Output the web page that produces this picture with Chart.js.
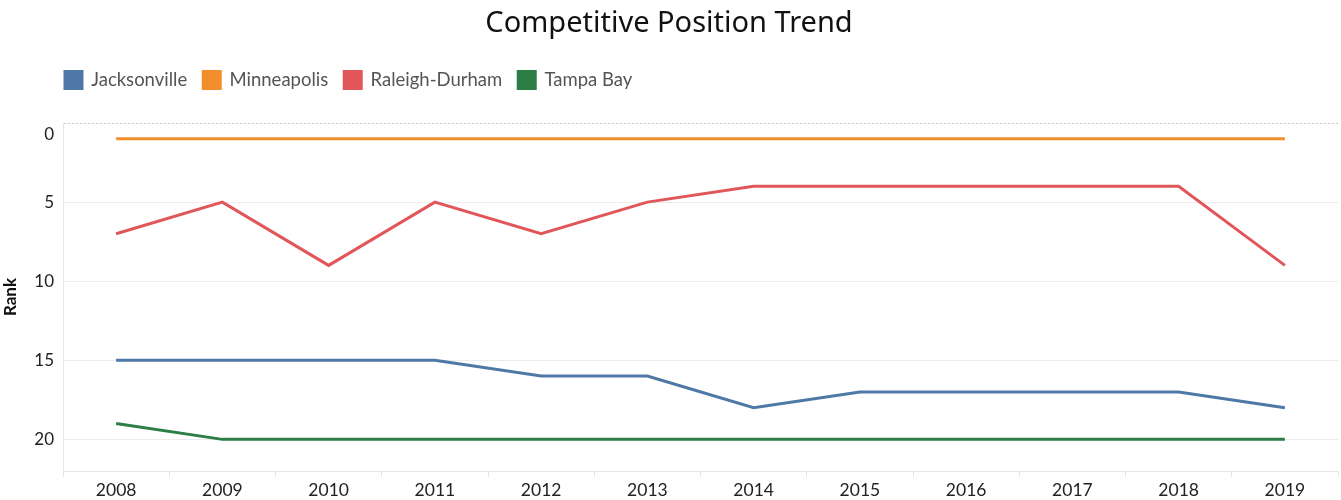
<!DOCTYPE html>
<html><head><meta charset="utf-8">
<script src="https://cdn.jsdelivr.net/npm/chart.js@4/dist/chart.umd.min.js"></script>
<style>html,body{margin:0;padding:0;background:#fff}#wrap{width:1341px;height:500px;position:relative}</style>
</head><body><div id="wrap"><canvas id="c" width="1341" height="500"></canvas></div>
<script>
const years = ['2008','2009','2010','2011','2012','2013','2014','2015','2016','2017','2018','2019'];
const jacksonville = [15,15,15,15,16,16,18,17,17,17,17,18];
const minneapolis = [1,1,1,1,1,1,1,1,1,1,1,1];
const raleighDurham = [7,5,9,5,7,5,4,4,4,4,4,9];
const tampaBay = [19,20,20,20,20,20,20,20,20,20,20,20];
const seriesNames = ['Jacksonville','Minneapolis','Raleigh-Durham','Tampa Bay'];
const seriesColors = ['#4e79a7','#f28e2b','#e15759','#2d7d46'];
const seriesData = [jacksonville, minneapolis, raleighDurham, tampaBay];

const FONT = 'Lato, "Noto Sans", sans-serif';

const legendTweak = {
  id: 'legendTweak',
  beforeInit(chart) {
    const lg = chart.legend;
    const origFit = lg.fit;
    lg.fit = function() { origFit.call(this); this.height += 23.75; };
  },
  afterLayout(chart) {
    chart.legend.left = 49;
  }
};

new Chart(document.getElementById('c'), {
  type: 'line',
  data: {
    labels: years,
    datasets: seriesNames.map((n,i)=>({
      label: n, data: seriesData[i], borderColor: seriesColors[i], backgroundColor: seriesColors[i],
      borderWidth: 3, pointRadius: 0, pointHoverRadius: 0, tension: 0, fill: false
    }))
  },
  plugins: [legendTweak],
  options: {
    responsive: false, animation: false,
    layout: {padding: {left: 0, right: 3, top: 0, bottom: 0}},
    plugins: {
      title: {display: true, text: 'Competitive Position Trend', color: '#111',
        font: {family: '"Noto Sans", sans-serif', size: 29, weight: 'normal'}, padding: {top: 6, bottom: 14}},
      legend: {display: true, align: 'start', labels: {boxWidth: 17, boxHeight: 17, color: '#555',
        font: {family: FONT, size: 18.5}, padding: 16}},
      tooltip: {enabled: false}
    },
    scales: {
      x: {type: 'category', offset: true,
        grid: {display: true, drawOnChartArea: false, drawTicks: true, tickLength: 6, offset: true, color: '#e6e6e6'},
        border: {display: true, color: '#e6e6e6'},
        ticks: {color: '#222', font: {family: FONT, size: 17.5}, padding: 3, maxRotation: 0, autoSkip: false},
        afterFit: s => { s.height = 29; }
      },
      y: {min: 0, max: 22, reverse: true,
        title: {display: true, text: 'Rank', color: '#111', font: {family: FONT, size: 17, weight: 'bold'}, padding: 0},
        grid: {color: ctx => (ctx.tick && ctx.tick.value === 0) ? '#c8c8c8' : '#ececec', lineWidth: 1, drawTicks: false},
        border: {display: true, color: '#e6e6e6', dash: ctx => (ctx.tick && ctx.tick.value === 0) ? [2,2] : []},
        ticks: {stepSize: 5, includeBounds: false, color: '#222', font: {family: FONT, size: 17, lineHeight: 1.4}, padding: 9,
          callback: v => v === 0 ? ['', '0'] : String(v)},
        afterFit: s => { s.width = 63; }
      }
    }
  }
});
</script></body></html>
